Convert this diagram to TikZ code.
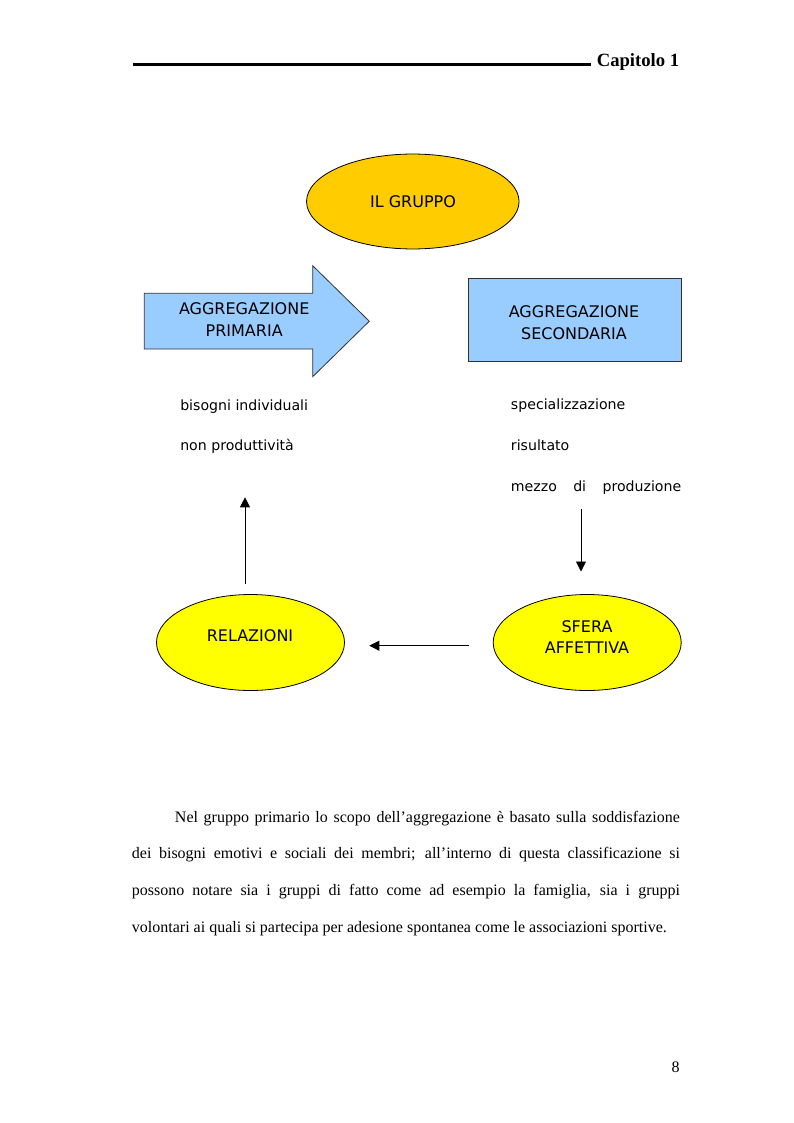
\documentclass[tikz,border=0pt]{standalone}
\usepackage{fontspec}
\setmainfont{Liberation Serif}
\newfontfamily\dejavu{DejaVu Sans}
\usetikzlibrary{arrows.meta,shapes.geometric}
\definecolor{gold}{HTML}{FFCC00}
\definecolor{sky}{HTML}{99CCFF}
\definecolor{lemon}{HTML}{FFFF00}
\tikzset{
  capsfont/.style={font=\dejavu\fontsize{12}{15.8}\selectfont},
  smallfont/.style={font=\dejavu\fontsize{10.6}{13}\selectfont},
  capstext/.style={capsfont, anchor=base, align=center, inner sep=0pt},
  itemtext/.style={smallfont, anchor=base west, inner sep=0pt},
  bubble/.style={shape=ellipse, draw=black, line width=0.6pt, inner sep=0pt},
  bluebox/.style={shape=rectangle, draw=black!80, line width=0.6pt, fill=sky, inner sep=0pt},
  flow/.style={draw=black, line width=0.6pt, -{Triangle[width=7.5pt,length=7.5pt]}},
}
\begin{document}
\begin{tikzpicture}[x=0.75pt,y=-0.75pt]
\useasboundingbox (0,0) rectangle (793,1123);

% header
\coordinate (hl) at (132.9,64.5);
\coordinate (hr) at (590.7,64.5);
\draw[line width=1.6pt] (hl) -- (hr);
\node[anchor=base west, inner sep=0pt, font=\bfseries\fontsize{14}{16}\selectfont] (cap) at (596.5,67) {Capitolo 1};

% IL GRUPPO
\node[bubble, fill=gold, minimum width=159.4pt, minimum height=71.2pt] (gruppo) at (412.8,201.5) {};
\node[capstext] (tgruppo) at (413,207.3) {IL GRUPPO};

% big arrow AGGREGAZIONE PRIMARIA
\draw[draw=black!80, line width=0.6pt, fill=sky]
  (144.3,293.3) -- (312.7,293.3) -- (312.7,265.7) -- (369.3,321.2)
  -- (312.7,376.7) -- (312.7,349) -- (144.3,349) -- cycle;
\node[capstext] (tprim) at (244.2,336) {AGGREGAZIONE\\PRIMARIA};

% box AGGREGAZIONE SECONDARIA
\node[bluebox, minimum width=159.5pt, minimum height=62.5pt] (sec) at (574.7,320) {};
\node[capstext] (tsec) at (574,339) {AGGREGAZIONE\\SECONDARIA};

% item texts
\node[itemtext] (bis) at (180,410) {bisogni individuali};
\node[itemtext] (nonp) at (180,450) {non produttività};
\node[itemtext] (spec) at (510.7,409) {specializzazione};
\node[itemtext] (ris) at (510.7,450) {risultato};
\node[itemtext] (mezzo) at (510.7,491) {\makebox[127.7pt][s]{mezzo di produzione}};

% bottom ellipses
\node[bubble, fill=lemon, minimum width=141pt, minimum height=72pt] (rel) at (250.5,642.5) {};
\node[capstext] (trel) at (250,641) {RELAZIONI};
\node[bubble, fill=lemon, minimum width=141pt, minimum height=72pt] (sfera) at (587.2,642.5) {};
\node[capstext] (tsfera) at (587,653.3) {SFERA\\AFFETTIVA};

% connectors
\coordinate (upS) at (245,584.3);
\coordinate (upE) at (245,497.3);
\coordinate (dnS) at (581,509.3);
\coordinate (dnE) at (581,571.5);
\coordinate (lfS) at (469.3,645.7);
\coordinate (lfE) at (369.3,645.7);
\draw[flow] (upS) -- (upE);
\draw[flow] (dnS) -- (dnE);
\draw[flow] (lfS) -- (lfE);

% paragraph
\node[anchor=base west, inner sep=0pt, text width=411pt, align=justify,
      font=\fontsize{12}{27.5}\selectfont] (para) at (131.7,822.3)
  {\tolerance=9999\hspace*{32.25pt}Nel gruppo primario lo scopo dell’aggregazione è basato sulla soddisfazione\linebreak
   dei bisogni emotivi e sociali dei membri; all’interno di questa classificazione si\linebreak
   possono notare sia i gruppi di fatto come ad esempio la famiglia, sia i gruppi\linebreak
   volontari ai quali si partecipa per adesione spontanea come le associazioni sportive.};

% page number
\node[anchor=base east, inner sep=0pt, font=\fontsize{12}{14}\selectfont] (pnum) at (680,1072) {8};
\end{tikzpicture}
\end{document}
